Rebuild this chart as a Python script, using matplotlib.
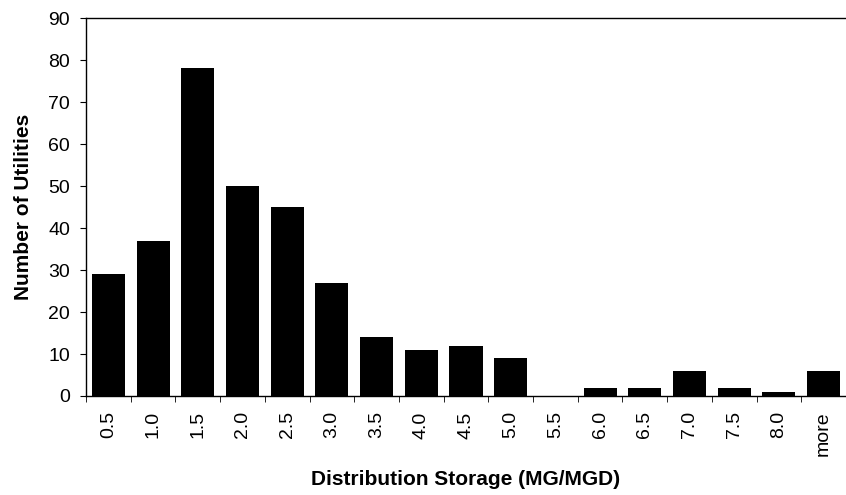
import matplotlib.pyplot as plt
import numpy as np

plt.rcParams['font.family'] = ['Liberation Sans', 'DejaVu Sans']

categories = ['0.5', '1.0', '1.5', '2.0', '2.5', '3.0', '3.5', '4.0', '4.5',
              '5.0', '5.5', '6.0', '6.5', '7.0', '7.5', '8.0', 'more']
counts = [29, 37, 78, 50, 45, 27, 14, 11, 12, 9, 0, 2, 2, 6, 2, 1, 6]

fig = plt.figure(figsize=(8.46, 4.95), dpi=100)
ax = fig.add_axes([0.1017, 0.2, 0.8983, 0.7636])

x = np.arange(len(categories))
ax.bar(x, counts, width=0.74, color='black')

ax.set_xlim(-0.5, len(categories) - 0.5)
ax.set_ylim(0, 90)
ax.set_yticks(np.arange(0, 91, 10))
ax.tick_params(axis='y', labelsize=14, length=4.5, direction='out', pad=7)

# labels at bar centres, tick marks between categories (Excel style)
ax.set_xticks(x)
ax.set_xticklabels(categories, rotation=90, fontsize=14)
ax.tick_params(axis='x', which='major', length=0, pad=11)
ax.set_xticks(np.arange(-0.5, len(categories), 1), minor=True)
ax.tick_params(axis='x', which='minor', length=4.5, direction='out')

ax.spines['right'].set_visible(False)
for s in ['top', 'left', 'bottom']:
    ax.spines[s].set_linewidth(1.0)

ax.set_ylabel('Number of Utilities', fontsize=15, fontweight='bold', labelpad=11)
ax.set_xlabel('Distribution Storage (MG/MGD)', fontsize=15, fontweight='bold', labelpad=10)

plt.savefig('out.png', dpi=100)
